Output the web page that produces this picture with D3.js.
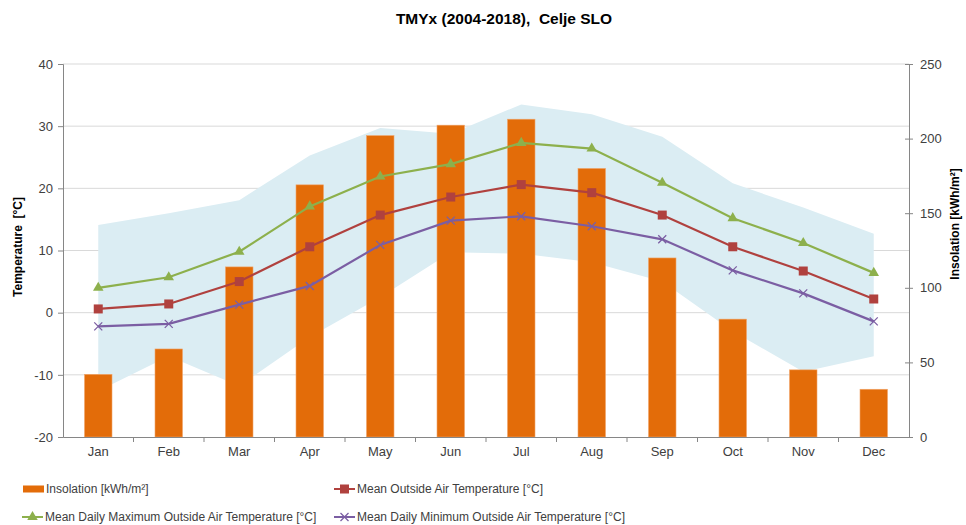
<!DOCTYPE html>
<html>
<head>
<meta charset="utf-8">
<script src="https://cdn.jsdelivr.net/npm/d3@7"></script>
<style>
	body { margin: 0; background: #fff; }
	svg { font-family: 'Liberation Sans', Arial, sans-serif; }
</style>
</head>
<body>
<div id="divChart"></div>
<script>
'use strict';

const width = 966;
const height = 525;

const months = ['Jan', 'Feb', 'Mar', 'Apr', 'May', 'Jun', 'Jul', 'Aug', 'Sep', 'Oct', 'Nov', 'Dec'];
const insolation = [42, 59, 114, 169, 202, 209, 213, 180, 120, 79, 45, 32];
const tempMax = [4.0, 5.7, 9.8, 17.1, 21.9, 23.9, 27.3, 26.4, 20.9, 15.2, 11.2, 6.4];
const tempMean = [0.6, 1.4, 5.0, 10.6, 15.7, 18.6, 20.6, 19.3, 15.7, 10.6, 6.7, 2.2];
const tempMin = [-2.2, -1.8, 1.3, 4.3, 10.9, 14.8, 15.5, 13.9, 11.8, 6.8, 3.1, -1.4];
const rangeHigh = [14.1, 16.0, 18.1, 25.3, 29.7, 28.8, 33.5, 31.9, 28.3, 20.8, 16.9, 12.7];
const rangeLow = [-12.6, -7.0, -11.8, -3.9, 2.5, 9.7, 9.5, 8.1, 5.0, -3.0, -9.5, -7.0];
const tempTicks = [-20, -10, 0, 10, 20, 30, 40];
const insolationTicks = [0, 50, 100, 150, 200, 250];

const chartTitle = 'TMYx (2004-2018),  Celje SLO';
const labelTemp = 'Temperature  [°C]';
const labelInsolation = 'Insolation [kWh/m²]';
const legendNames = [
	'Insolation [kWh/m²]',
	'Mean Outside Air Temperature [°C]',
	'Mean Daily Maximum Outside Air Temperature [°C]',
	'Mean Daily Minimum Outside Air Temperature [°C]'
];

const colorBar = '#e36c09';
const colorMean = '#b0413e';
const colorMax = '#8db04c';
const colorMin = '#7b5ea3';
const colorBand = '#dbedf3';
const colorAxis = '#868686';
const colorText = '#404040';

const plotLeft = 63;
const plotRight = 909;
const plotTop = 64;
const plotBottom = 437;

const x = d3.scaleBand().domain(months).range([plotLeft, plotRight]);
const yTemp = d3.scaleLinear().domain([-20, 40]).range([plotBottom, plotTop]);
const yIns = d3.scaleLinear().domain([0, 250]).range([plotBottom, plotTop]);
const cx = m => x(m) + x.bandwidth() / 2;

const svg = d3.select('#divChart')
	.append('svg')
	.attr('width', width)
	.attr('height', height);

// gridlines
svg.append('g')
	.selectAll('line')
	.data(tempTicks.filter(t => t > -20))
	.join('line')
	.attr('x1', plotLeft)
	.attr('x2', plotRight)
	.attr('y1', d => yTemp(d))
	.attr('y2', d => yTemp(d))
	.attr('stroke', '#d9d9d9')
	.attr('stroke-width', 1);

// min/max range band
const area = d3.area()
	.x((d, i) => cx(months[i]))
	.y0((d, i) => yTemp(rangeLow[i]))
	.y1(d => yTemp(d));
svg.append('path')
	.attr('d', area(rangeHigh))
	.attr('fill', colorBand);

// insolation bars
const barWidth = x.bandwidth() * 0.39;
svg.append('g')
	.selectAll('rect')
	.data(insolation)
	.join('rect')
	.attr('x', (d, i) => cx(months[i]) - barWidth / 2)
	.attr('y', d => yIns(d))
	.attr('width', barWidth)
	.attr('height', d => plotBottom - yIns(d))
	.attr('fill', colorBar)
	.attr('stroke', '#f0a56a')
	.attr('stroke-width', 0.6);

// axes (plain hyphen for negatives, like the original)
const plainNumber = d => String(d);
const axisLeft = svg.append('g')
	.attr('transform', `translate(${plotLeft},0)`)
	.call(d3.axisLeft(yTemp).tickValues(tempTicks).tickFormat(plainNumber).tickSize(5).tickPadding(5));
const axisRight = svg.append('g')
	.attr('transform', `translate(${plotRight},0)`)
	.call(d3.axisRight(yIns).tickValues(insolationTicks).tickFormat(plainNumber).tickSize(4).tickPadding(7));
axisRight.selectAll('.tick line').attr('x1', -4);
const axisBottom = svg.append('g')
	.attr('transform', `translate(0,${plotBottom})`)
	.call(d3.axisBottom(x).tickSize(0).tickPadding(10));
axisBottom.selectAll('.tick')
	.filter((d, i) => i > 0)
	.append('line')
	.attr('x1', -x.bandwidth() / 2)
	.attr('x2', -x.bandwidth() / 2)
	.attr('y2', 5);

for (const g of [axisLeft, axisRight, axisBottom]) {
	g.select('.domain').attr('stroke', colorAxis);
	g.selectAll('.tick line').attr('stroke', colorAxis);
	g.selectAll('text')
		.attr('fill', colorText)
		.style('font-size', '13px')
		.style('font-family', "'Liberation Sans', Arial, sans-serif");
}

// temperature lines
const line = d3.line()
	.x((d, i) => cx(months[i]))
	.y(d => yTemp(d));

function drawMarker(g, type, color, px, py) {
	if (type == 'square') {
		g.append('rect')
			.attr('x', px - 4.5)
			.attr('y', py - 4.5)
			.attr('width', 9)
			.attr('height', 9)
			.attr('fill', color);
	} else if (type == 'triangle') {
		g.append('path')
			.attr('d', d3.symbol(d3.symbolTriangle, 48)())
			.attr('transform', `translate(${px},${py})`)
			.attr('fill', color);
	} else if (type == 'cross') {
		g.append('path')
			.attr('d', `M${px - 4},${py - 4}L${px + 4},${py + 4}M${px - 4},${py + 4}L${px + 4},${py - 4}`)
			.attr('stroke', color)
			.attr('stroke-width', 1.3)
			.attr('fill', 'none');
	}
}

const seriesList = [
	{ values: tempMin, color: colorMin, marker: 'cross' },
	{ values: tempMean, color: colorMean, marker: 'square' },
	{ values: tempMax, color: colorMax, marker: 'triangle' }
];
for (const series of seriesList) {
	const g = svg.append('g');
	g.append('path')
		.attr('d', line(series.values))
		.attr('fill', 'none')
		.attr('stroke', series.color)
		.attr('stroke-width', 2.2);
	series.values.forEach((v, i) => drawMarker(g, series.marker, series.color, cx(months[i]), yTemp(v)));
}

// title and axis labels
svg.append('text')
	.attr('x', 504)
	.attr('y', 24)
	.attr('text-anchor', 'middle')
	.style('font-size', '15.5px')
	.style('font-weight', 'bold')
	.style('white-space', 'pre')
	.attr('fill', '#000')
	.text(chartTitle);

svg.append('text')
	.attr('transform', 'translate(22,247) rotate(-90)')
	.attr('text-anchor', 'middle')
	.style('font-size', '12px')
	.style('font-weight', 'bold')
	.style('white-space', 'pre')
	.attr('fill', '#000')
	.text(labelTemp);

svg.append('text')
	.attr('transform', 'translate(959,224) rotate(-90)')
	.attr('text-anchor', 'middle')
	.style('font-size', '12px')
	.style('font-weight', 'bold')
	.attr('fill', '#000')
	.text(labelInsolation);

// legend
const legendPos = [[23, 489], [334, 489], [22, 517], [334, 517]];
const legendMarkers = [null, 'square', 'triangle', 'cross'];
const legendColors = [colorBar, colorMean, colorMax, colorMin];
legendNames.forEach((name, i) => {
	const [lx, ly] = legendPos[i];
	const g = svg.append('g');
	if (legendMarkers[i] === null) {
		g.append('rect')
			.attr('x', lx)
			.attr('y', ly - 3.5)
			.attr('width', 21)
			.attr('height', 7)
			.attr('fill', legendColors[i]);
	} else {
		g.append('line')
			.attr('x1', lx)
			.attr('x2', lx + 21)
			.attr('y1', ly)
			.attr('y2', ly)
			.attr('stroke', legendColors[i])
			.attr('stroke-width', 2);
		drawMarker(g, legendMarkers[i], legendColors[i], lx + 10.5, ly);
	}
	g.append('text')
		.attr('x', lx + 23)
		.attr('y', ly + 4)
		.style('font-size', '12px')
		.attr('fill', colorText)
		.text(name);
});
</script>
</body>
</html>
